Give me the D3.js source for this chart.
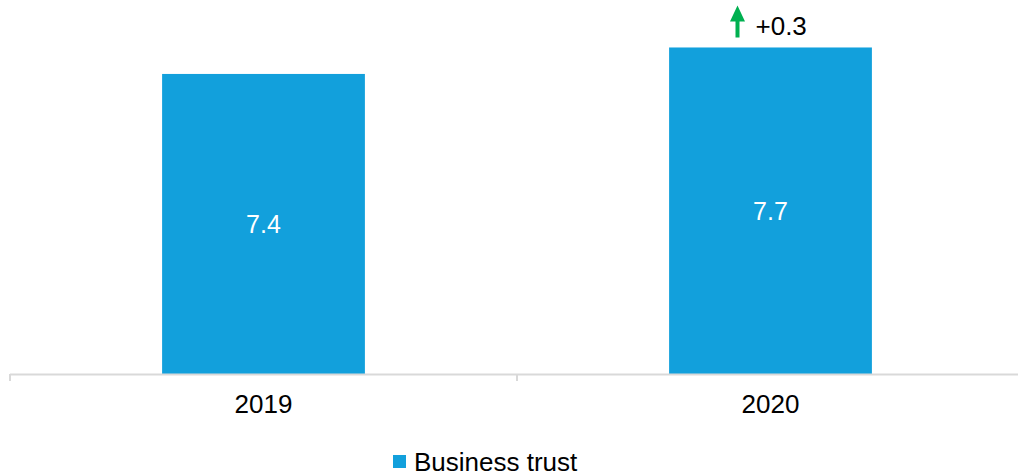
<!DOCTYPE html>
<html>
<head>
<meta charset="utf-8">
<script src="https://cdn.jsdelivr.net/npm/d3@7"></script>
<style>
  body { margin: 0; background: #fff; }
  text { font-family: "Liberation Sans", Arial, sans-serif; }
</style>
</head>
<body>
<svg id="chart" width="1018" height="476"></svg>
<script>
const years = ["2019", "2020"];
const values = [7.4, 7.7];
const changes = [null, "+0.3"];
const seriesName = "Business trust";

const barColor = "#12a0dc";
const svg = d3.select("#chart");

// axe vertical caché, ne commence pas à zéro
const x = d3.scaleBand().domain(years).range([10, 1024]).paddingInner(0.6).paddingOuter(0.3);
const y = d3.scaleLinear().domain([4, 8]).range([374, 21]);

// les barres
svg.append("g")
  .selectAll("rect")
  .data(values)
  .join("rect")
  .attr("x", (d, i) => x(years[i]))
  .attr("y", d => y(d))
  .attr("width", x.bandwidth())
  .attr("height", d => y(4) - y(d))
  .attr("fill", barColor);

// étiquettes dans les barres
svg.append("g")
  .selectAll("text")
  .data(values)
  .join("text")
  .attr("x", (d, i) => x(years[i]) + x.bandwidth() / 2)
  .attr("y", d => (y(d) + y(4)) / 2 + 9)
  .attr("text-anchor", "middle")
  .attr("fill", "#fff")
  .attr("font-size", 25)
  .text(d => d.toFixed(1));

// axe des catégories
const axisG = svg.append("g");
axisG.append("line")
  .attr("x1", 10).attr("x2", 1018)
  .attr("y1", 374.5).attr("y2", 374.5)
  .attr("stroke", "#d9d9d9").attr("stroke-width", 2);
[10, 517].forEach(t => {
  axisG.append("line")
    .attr("x1", t).attr("x2", t)
    .attr("y1", 374).attr("y2", 381)
    .attr("stroke", "#d9d9d9").attr("stroke-width", 2);
});
axisG.selectAll("text")
  .data(years)
  .join("text")
  .attr("x", d => x(d) + x.bandwidth() / 2)
  .attr("y", 413)
  .attr("text-anchor", "middle")
  .attr("fill", "#000")
  .attr("font-size", 26)
  .text(d => d);

// variation avec flèche verte
changes.forEach((c, i) => {
  if (!c) return;
  const cx = x(years[i]) + x.bandwidth() / 2;
  const top = y(values[i]);
  const ax = cx - 33;
  svg.append("path")
    .attr("d", `M${ax - 7.5},${top - 26} L${ax},${top - 42} L${ax + 7.5},${top - 26} L${ax + 2},${top - 26} L${ax + 2},${top - 10} L${ax - 2},${top - 10} L${ax - 2},${top - 26} Z`)
    .attr("fill", "#00b050");
  svg.append("text")
    .attr("x", cx - 15)
    .attr("y", top - 12)
    .attr("fill", "#000")
    .attr("font-size", 26)
    .text(c);
});

// légende
const leg = svg.append("g");
leg.append("rect")
  .attr("x", 393).attr("y", 455)
  .attr("width", 13).attr("height", 13)
  .attr("fill", barColor);
leg.append("text")
  .attr("x", 414).attr("y", 471)
  .attr("fill", "#000")
  .attr("font-size", 26)
  .text(seriesName);
</script>
</body>
</html>
